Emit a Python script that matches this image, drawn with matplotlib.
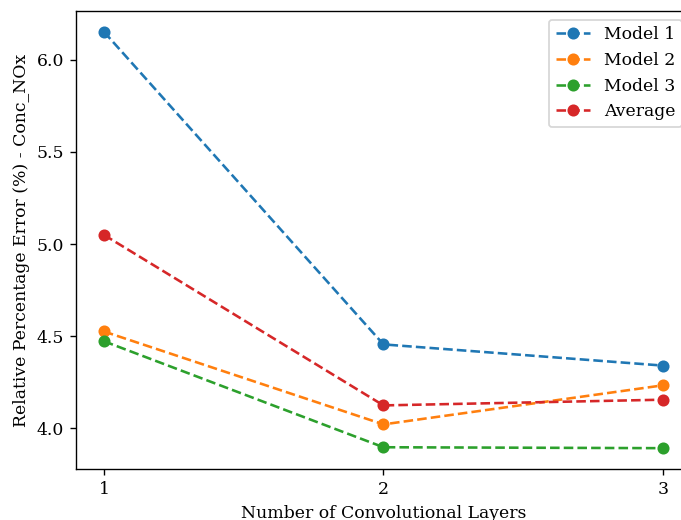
import matplotlib
matplotlib.use('Agg')
import matplotlib.pyplot as plt

plt.rcParams['font.family'] = 'DejaVu Serif'

layers = [1, 2, 3]
model_1 = [6.152, 4.456, 4.341]
model_2 = [4.526, 4.022, 4.234]
model_3 = [4.473, 3.898, 3.893]
average = [5.050, 4.125, 4.156]

series = [('Model 1', model_1), ('Model 2', model_2),
          ('Model 3', model_3), ('Average', average)]

dpi = 124
fig = plt.figure(figsize=(681 / dpi, 520 / dpi), dpi=dpi)
ax = fig.add_axes([0.1116, 0.0981, 0.903, 0.8808])

for nome, valores in series:
    ax.plot(layers, valores, linestyle='--', marker='o', label=nome)

ax.set_xticks(layers)
ax.set_yticks([4.0, 4.5, 5.0, 5.5, 6.0])
ax.set_xlabel('Number of Convolutional Layers')
ax.set_ylabel('Relative Percentage Error (%) - Conc_NOx')
ax.legend(loc='upper right')

fig.savefig('out.png', dpi=dpi)
